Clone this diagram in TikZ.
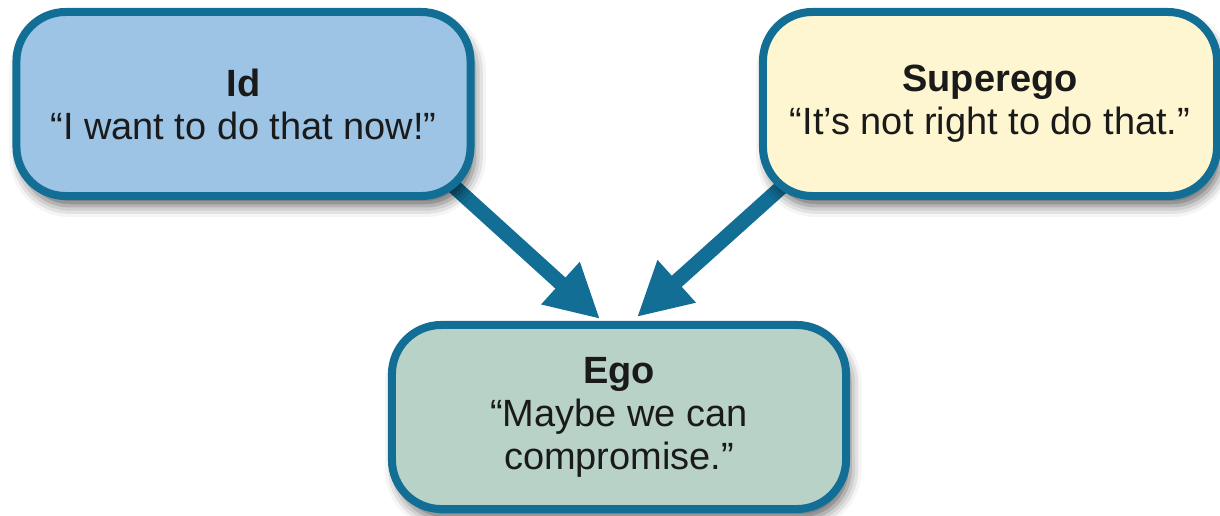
\documentclass[tikz,border=0pt]{standalone}
\usepackage{fontspec}
\setmainfont{Liberation Sans}
\usetikzlibrary{arrows.meta,calc,backgrounds,shadows.blur}
\definecolor{edge_blue}{RGB}{18,110,148}
\definecolor{node_blue}{RGB}{157,196,229}
\definecolor{node_cream}{RGB}{253,246,208}
\definecolor{node_sage}{RGB}{184,210,200}
\definecolor{text_dark}{RGB}{26,26,26}

\begin{document}
\begin{tikzpicture}[x=0.025cm,y=-0.025cm,>={Triangle[length=38pt,width=38pt]}]
    \tikzstyle{box}=[draw=edge_blue, line width=5.7pt, rounded corners=35pt, align=center, text=text_dark, font=\fontsize{27}{30.5}\selectfont, minimum width=11.35cm, minimum height=4.6cm, blur shadow={shadow xshift=3pt,shadow yshift=-7pt,shadow blur radius=8pt,shadow opacity=60}]
    \tikzstyle{idbox}=[style=box,fill=node_blue]
    \tikzstyle{superbox}=[style=box,fill=node_cream]
    \tikzstyle{egobox}=[style=box,fill=node_sage]
    \tikzstyle{push}=[->,draw=edge_blue,line width=10.6pt]

    \useasboundingbox (0,0) rectangle (1220,515);

    \node[idbox]    (id)  at (243.5,104) {\textbf{Id}\\“I want to do that now!”};
    \node[superbox] (sup) at (990,104)   {\textbf{Superego}\\“It’s not right to do that.”};
    \node[egobox]   (ego) at (619,417)   {\textbf{Ego}\\“Maybe we can\\compromise.”};

    % arrows go behind the boxes
    \begin{pgfonlayer}{background}
    \path
     ($(id.center)+(200,73)$)   edge[push] ($(ego.north)+(-19,-2)$)
     ($(sup.center)+(-185,62)$) edge[push] ($(ego.north)+(18,-4)$)
     ;
    \end{pgfonlayer}
\end{tikzpicture}
\end{document}
